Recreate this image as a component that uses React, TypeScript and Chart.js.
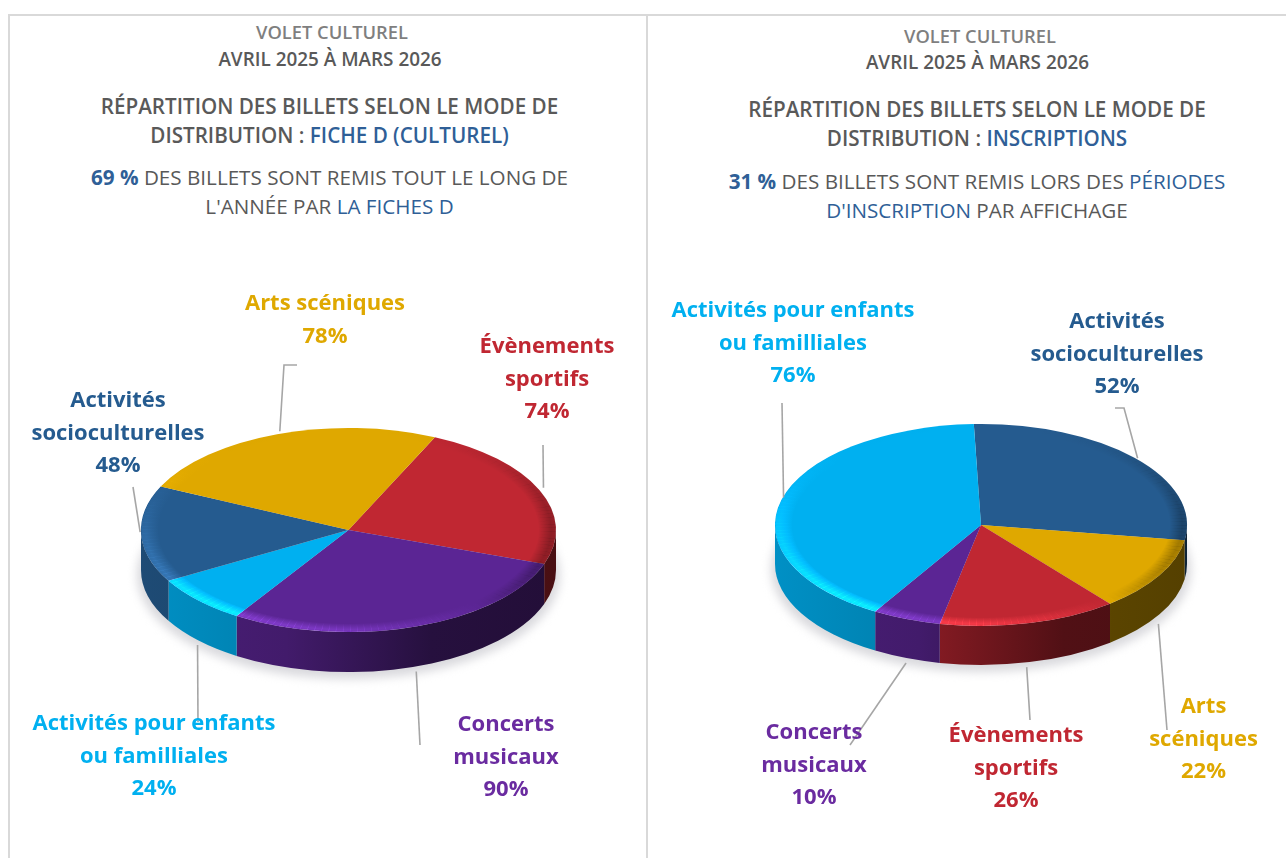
import React, { useEffect, useRef } from "react";
import { Chart, registerables } from "chart.js";

Chart.register(...registerables);

const LEFT_CATEGORIES = [
  ["Évènements", "sportifs"],
  ["Concerts", "musicaux"],
  ["Activités pour enfants", "ou familliales"],
  ["Activités", "socioculturelles"],
  ["Arts scéniques"],
];
const LEFT_VALUES = [74, 90, 24, 48, 78];
const LEFT_COLORS = ["#c02732", "#5b2594", "#00b0f0", "#255b8f", "#dfa800"];
const LEFT_TEXT_COLORS = ["#c02732", "#6a2ba0", "#00b0f0", "#255b8f", "#dfa800"];

const RIGHT_CATEGORIES = [
  ["Activités", "socioculturelles"],
  ["Arts", "scéniques"],
  ["Évènements", "sportifs"],
  ["Concerts", "musicaux"],
  ["Activités pour enfants", "ou familliales"],
];
const RIGHT_VALUES = [52, 22, 26, 10, 76];
const RIGHT_COLORS = ["#255b8f", "#dfa800", "#c02732", "#5b2594", "#00b0f0"];
const RIGHT_TEXT_COLORS = ["#255b8f", "#dfa800", "#c02732", "#6a2ba0", "#00b0f0"];

const W = 1286;
const H = 858;
const LABEL_FONT = "700 22px 'Open Sans'";
const LINE_H = 32.4;

type Pt = [number, number];
type PieCfg = {
  cats: string[][];
  vals: number[];
  colors: string[];
  textColors: string[];
  cx: number;
  cy: number;
  R: number;
  squash: number;
  depth: number;
  rotation: number;
  labelAt: Pt[];
  leaders: Pt[][];
  nudge: Pt[];
};

const LEFT_CFG: PieCfg = {
  cats: LEFT_CATEGORIES,
  vals: LEFT_VALUES,
  colors: LEFT_COLORS,
  textColors: LEFT_TEXT_COLORS,
  cx: 348.5,
  cy: 530,
  R: 207.5,
  squash: 0.492,
  depth: 40,
  rotation: 24.6,
  labelAt: [
    [547, 345],
    [506, 723],
    [154, 722],
    [118, 399],
    [325, 302],
  ],
  leaders: [
    [[543, 445]],
    [[420, 745]],
    [[198, 722]],
    [[133, 487]],
    [[284, 365], [297, 365]],
  ],
  nudge: [
    [3, 0],
    [0, 0],
    [0, 0],
    [0, 0],
    [3, 0],
  ],
};

const RIGHT_CFG: PieCfg = {
  cats: RIGHT_CATEGORIES,
  vals: RIGHT_VALUES,
  colors: RIGHT_COLORS,
  textColors: RIGHT_TEXT_COLORS,
  cx: 981,
  cy: 525,
  R: 206,
  squash: 0.49,
  depth: 39,
  rotation: -2,
  labelAt: [
    [1117, 320],
    [1203.5, 705],
    [1016, 734],
    [814, 731],
    [793, 309],
  ],
  leaders: [
    [[1124, 408], [1115, 408]],
    [[1167, 730]],
    [[1030, 720]],
    [[850, 745]],
    [[782, 403]],
  ],
  nudge: [
    [2, 3],
    [-2, 5],
    [-3, 0],
    [0, 0],
    [3, 0],
  ],
};

function rgbOf(hex: string) {
  const n = parseInt(hex.slice(1), 16);
  return [(n >> 16) & 255, (n >> 8) & 255, n & 255];
}

function shade(hex: string, f: number) {
  const [r, g, b] = rgbOf(hex);
  return `rgb(${Math.round(r * f)},${Math.round(g * f)},${Math.round(b * f)})`;
}

function pie3dPlugin(cfg: PieCfg) {
  return {
    id: "pie3d",
    beforeDatasetsDraw(chart: any) {
      const ctx: CanvasRenderingContext2D = chart.ctx;
      const { cx, cy, R, squash, depth } = cfg;
      const Ry = R * squash;
      // soft ground shadow
      ctx.save();
      ctx.filter = "blur(5px)";
      ctx.fillStyle = "#d9d9dd";
      ctx.beginPath();
      ctx.ellipse(cx, cy + depth + 5, R + 4, Ry + 2, 0, 0, Math.PI * 2);
      ctx.fill();
      ctx.restore();
      // extruded wall
      const arcs = chart.getDatasetMeta(0).data;
      arcs.forEach((arc: any, i: number) => {
        const tau = Math.PI * 2;
        let a = arc.startAngle % tau;
        if (a < 0) a += tau;
        const b = a + (arc.endAngle - arc.startAngle);
        const ranges: Pt[] = [
          [Math.max(a, 0), Math.min(b, Math.PI)],
          [Math.max(a, tau), Math.min(b, tau + Math.PI)],
        ];
        ranges.forEach(([s, e]) => {
          if (e <= s) return;
          const g = ctx.createLinearGradient(cx - R, 0, cx + R, 0);
          const base = cfg.colors[i];
          g.addColorStop(0, shade(base, 0.82));
          g.addColorStop(0.35, shade(base, 0.72));
          g.addColorStop(0.7, shade(base, 0.42));
          g.addColorStop(1, shade(base, 0.38));
          ctx.fillStyle = g;
          ctx.beginPath();
          ctx.ellipse(cx, cy, R, Ry, 0, s, e, false);
          ctx.ellipse(cx, cy + depth, R, Ry, 0, e, s, true);
          ctx.closePath();
          ctx.fill();
        });
      });
      // squash what the library draws next into the pie's tilted plane
      ctx.save();
      ctx.translate(0, cy);
      ctx.scale(1, squash);
      ctx.translate(0, -cy);
    },
    afterDatasetsDraw(chart: any) {
      const ctx: CanvasRenderingContext2D = chart.ctx;
      const { cx, cy, R, depth, squash } = cfg;
      const arcs = chart.getDatasetMeta(0).data;
      // bevelled rim, still in the tilted plane
      const step = Math.PI / 90;
      arcs.forEach((arc: any, i: number) => {
        const [br, bg, bb] = rgbOf(cfg.colors[i]);
        for (let t = arc.startAngle; t < arc.endAngle - 1e-6; t += step) {
          const e = Math.min(t + step, arc.endAngle);
          const north = (t + e) / 2 + Math.PI / 2;
          const light = Math.cos(north - (230 * Math.PI) / 180);
          const weight = Math.pow((1 - Math.cos(north)) / 2, 1.3);
          const inner = R * 0.915;
          const g = ctx.createRadialGradient(cx, cy, inner, cx, cy, R);
          const col = light > 0 ? `${Math.min(255, br + 40)},${Math.min(255, bg + 40)},${Math.min(255, bb + 40)}` : "0,0,0";
          const alpha = (light > 0 ? 0.32 * light : 0.85 * -light) * weight;
          g.addColorStop(0, `rgba(${col},0)`);
          g.addColorStop(0.72, `rgba(${col},${alpha})`);
          g.addColorStop(1, `rgba(${col},${alpha * 0.85})`);
          ctx.globalCompositeOperation = light > 0 ? "lighter" : "source-over";
          ctx.fillStyle = g;
          ctx.beginPath();
          ctx.arc(cx, cy, R, t, e + 0.002);
          ctx.arc(cx, cy, inner, e + 0.002, t, true);
          ctx.closePath();
          ctx.fill();
        }
      });
      ctx.globalCompositeOperation = "source-over";
      ctx.restore();

      // leader lines start at each slice's mid-angle on the rim
      ctx.save();
      ctx.strokeStyle = "#a6a6a6";
      ctx.lineWidth = 1.6;
      arcs.forEach((arc: any, i: number) => {
        const mid = (arc.startAngle + arc.endAngle) / 2;
        const sin = Math.sin(mid);
        const sx = cx + Math.cos(mid) * (R + 1) + cfg.nudge[i][0];
        const sy = cy + sin * (R * squash + 1) + (sin > 0.2 ? depth + 4 : -2) + cfg.nudge[i][1];
        ctx.beginPath();
        ctx.moveTo(sx, sy);
        cfg.leaders[i].forEach(([x, y]) => ctx.lineTo(x, y));
        ctx.stroke();
      });
      // labels
      ctx.textAlign = "center";
      ctx.textBaseline = "middle";
      ctx.font = LABEL_FONT;
      cfg.cats.forEach((lines, i) => {
        ctx.fillStyle = cfg.textColors[i];
        const [lx, ly] = cfg.labelAt[i];
        lines.forEach((t, k) => ctx.fillText(t, lx, ly + 2 + k * LINE_H));
        ctx.fillText(`${cfg.vals[i]}%`, lx, ly + 2 + lines.length * LINE_H);
      });
      ctx.restore();
    },
  };
}

function Pie({ cfg }: { cfg: PieCfg }) {
  const ref = useRef<HTMLCanvasElement>(null);
  useEffect(() => {
    const chart = new Chart(ref.current as HTMLCanvasElement, {
      type: "pie",
      data: {
        labels: cfg.cats.map((c) => c.join(" ")),
        datasets: [
          { data: cfg.vals, backgroundColor: cfg.colors, borderWidth: 0, clip: false } as any,
        ],
      },
      options: {
        responsive: false,
        animation: false,
        rotation: cfg.rotation,
        layout: {
          padding: {
            left: cfg.cx - cfg.R,
            right: W - cfg.cx - cfg.R,
            top: cfg.cy - cfg.R,
            bottom: H - cfg.cy - cfg.R,
          },
        },
        plugins: { legend: { display: false }, tooltip: { enabled: false } },
      } as any,
      plugins: [pie3dPlugin(cfg)],
    });
    return () => chart.destroy();
  }, [cfg]);
  return (
    <canvas
      ref={ref}
      width={W}
      height={H}
      style={{ position: "absolute", left: 0, top: 0, width: W, height: H }}
    />
  );
}

const BLUE = "#2f5f97";
const DARK = "#595959";
const FONT = "'Open Sans', sans-serif";

function Line({ x, y, size, weight, color, children }: any) {
  return (
    <div
      style={{
        position: "absolute",
        left: x - 320,
        width: 640,
        top: y - 15,
        height: 30,
        lineHeight: "30px",
        textAlign: "center",
        fontFamily: FONT,
        fontSize: size,
        fontWeight: weight,
        color,
        whiteSpace: "nowrap",
      }}
    >
      {children}
    </div>
  );
}

const Blue = ({ children, bold }: any) => (
  <span style={{ color: BLUE, fontWeight: bold ? 700 : undefined }}>{children}</span>
);

const SMALL = 18.3;
const DATE = 18.9;
const BIG = 20.65;

export default function App() {
  const border = "#d9d9d9";
  return (
    <div style={{ position: "absolute", left: 0, top: 0, width: W, height: H, overflow: "hidden", background: "#fff" }}>
      <div style={{ position: "absolute", left: 8, top: 14, width: W - 8, height: 2, background: border }} />
      <div style={{ position: "absolute", left: 8, top: 14, width: 2, height: H - 14, background: border }} />
      <div style={{ position: "absolute", left: 646, top: 14, width: 2, height: H - 14, background: border }} />

      <Line x={332} y={32} size={SMALL} weight={600} color="#7f7f7f">VOLET CULTUREL</Line>
      <Line x={330} y={59} size={DATE} weight={600} color={DARK}>AVRIL 2025 À MARS 2026</Line>
      <Line x={329.5} y={106} size={BIG} weight={600} color={DARK}>RÉPARTITION DES BILLETS SELON LE MODE DE</Line>
      <Line x={329.5} y={135} size={BIG} weight={600} color={DARK}>DISTRIBUTION : <Blue>FICHE D (CULTUREL)</Blue></Line>
      <Line x={329.5} y={177} size={BIG} weight={400} color={DARK}><Blue bold>69 %</Blue> DES BILLETS SONT REMIS TOUT LE LONG DE</Line>
      <Line x={329.5} y={206} size={BIG} weight={400} color={DARK}>L'ANNÉE PAR <Blue>LA FICHES D</Blue></Line>

      <Line x={980} y={36} size={SMALL} weight={600} color="#7f7f7f">VOLET CULTUREL</Line>
      <Line x={977.5} y={62} size={DATE} weight={600} color={DARK}>AVRIL 2025 À MARS 2026</Line>
      <Line x={977} y={109} size={BIG} weight={600} color={DARK}>RÉPARTITION DES BILLETS SELON LE MODE DE</Line>
      <Line x={977} y={138} size={BIG} weight={600} color={DARK}>DISTRIBUTION : <Blue>INSCRIPTIONS</Blue></Line>
      <Line x={977} y={181} size={BIG} weight={400} color={DARK}><Blue bold>31 %</Blue> DES BILLETS SONT REMIS LORS DES <Blue>PÉRIODES</Blue></Line>
      <Line x={977} y={210} size={BIG} weight={400} color={DARK}><Blue>D'INSCRIPTION</Blue> PAR AFFICHAGE</Line>

      <Pie cfg={LEFT_CFG} />
      <Pie cfg={RIGHT_CFG} />
    </div>
  );
}
